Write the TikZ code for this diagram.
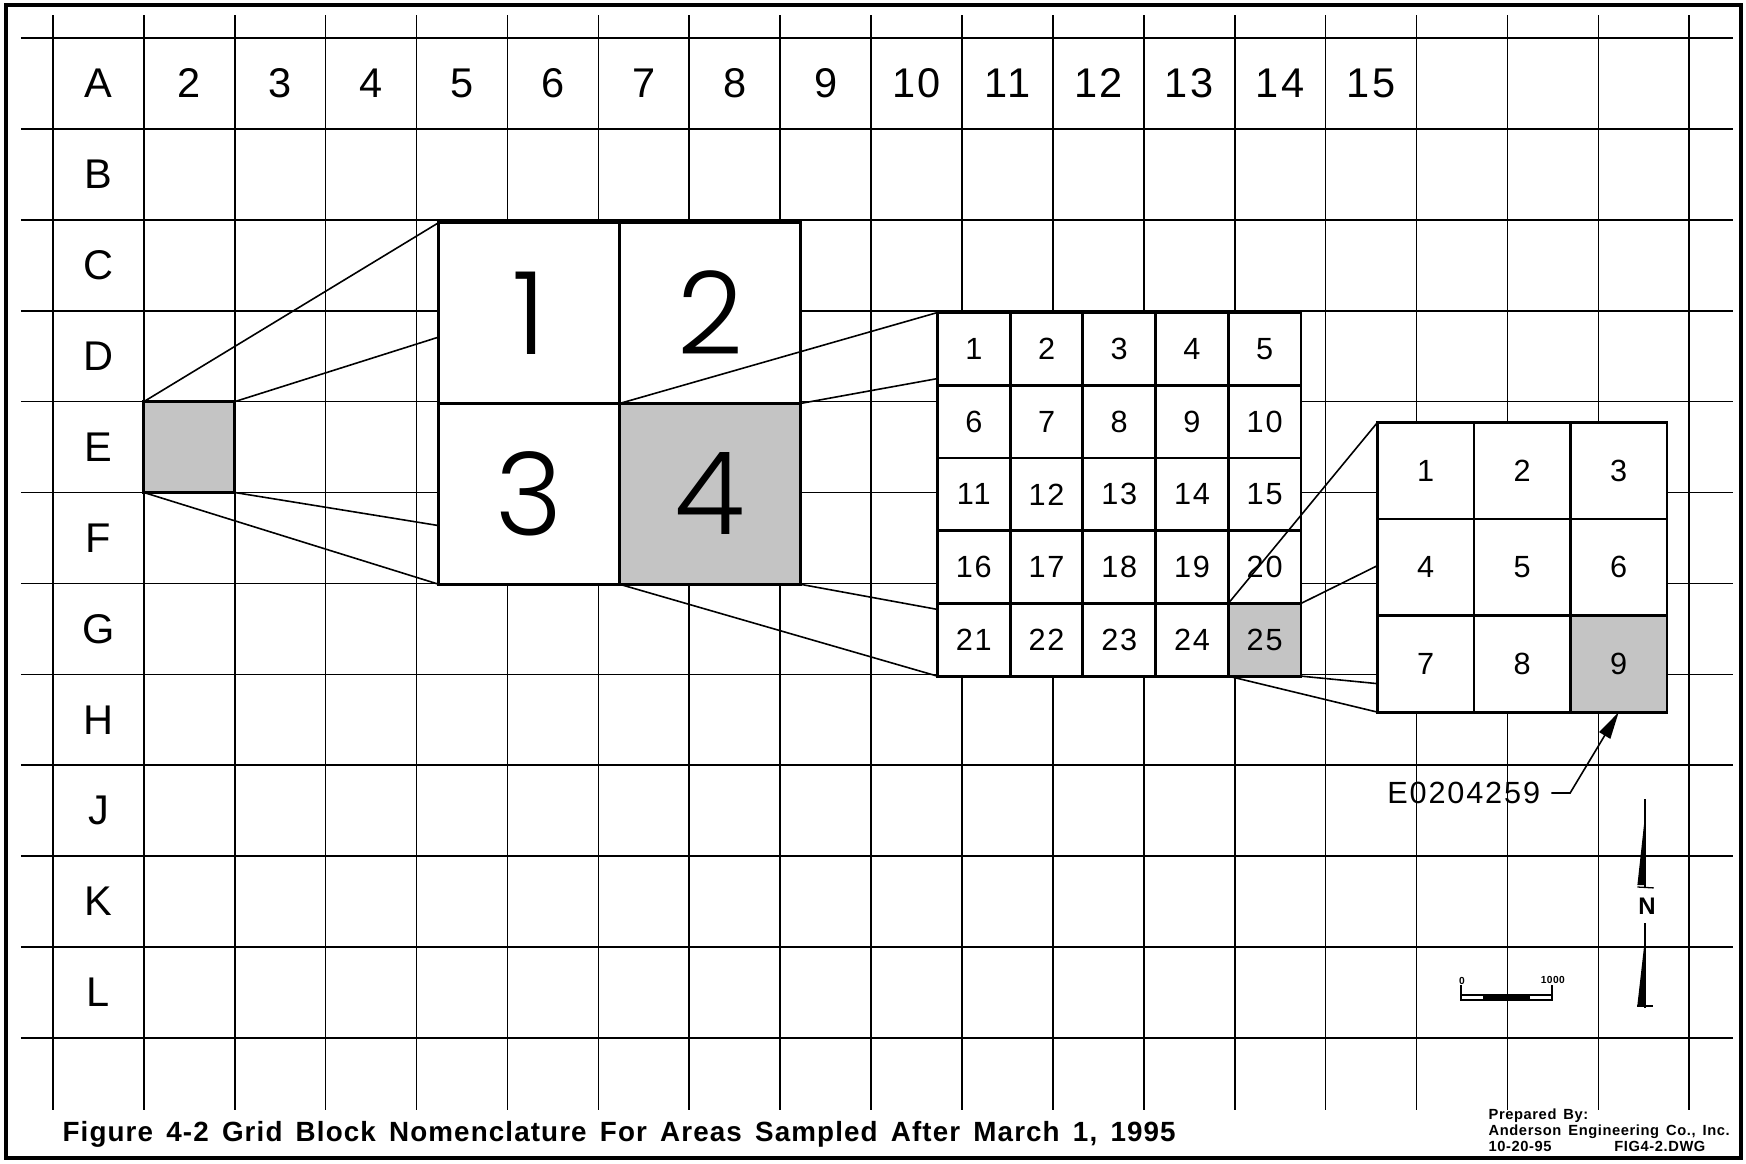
\documentclass[tikz,border=0pt]{standalone}
\usepackage{fontspec}
\setmainfont{Liberation Sans}
\newfontfamily\labfont{Liberation Sans}[LetterSpace=6]
\newfontfamily\capfont{Liberation Sans}[LetterSpace=4, WordSpace=1.5]
\newfontfamily\thinfont{Poppins Light}
\usetikzlibrary{arrows.meta}
\definecolor{cshade}{HTML}{C4C4C4}
\pgfdeclarelayer{grid}
\pgfdeclarelayer{zoomA}
\pgfdeclarelayer{boxA}
\pgfdeclarelayer{zoomB}
\pgfdeclarelayer{boxB}
\pgfdeclarelayer{zoomC}
\pgfdeclarelayer{boxC}
\pgfsetlayers{grid,zoomA,boxA,zoomB,boxB,zoomC,boxC,main}
\tikzset{
  every picture/.style={line width=0.5pt},
  cell/.style={draw, line width=0.9pt, fill=white, minimum size=#1, inner sep=0pt, outer sep=0pt},
  cell/.default=1cm,
  gridline/.style={line width=0.5pt},
  zoomline/.style={line width=0.5pt},
  lab/.style={font=\labfont\fontsize{13}{13}\selectfont},
  num/.style={font=\labfont\fontsize{9.6}{10}\selectfont},
  bignum/.style={font=\thinfont\fontsize{36}{36}\selectfont},
  tiny/.style={font=\capfont\bfseries\fontsize{4.6}{5}\selectfont, anchor=base west, inner sep=0pt},
}

\begin{document}
\begin{tikzpicture}[x=1cm, y=1cm,
                    tip/.style={-{Triangle[length=3mm, width=1.4mm]}, line width=0.5pt},
                    scalelab/.style={font=\capfont\bfseries\fontsize{3.2}{4}\selectfont, inner sep=0pt}]
  \useasboundingbox (-0.583,0.418) rectangle (18.625,-12.387);
  \draw[line width=1.2pt] (-0.517,0.363) rectangle (18.57,-12.32);
  \begin{pgfonlayer}{grid}
    \foreach \i in {0,...,18} \draw[gridline] (\i,0.253) -- (\i,-11.79);
    \foreach \j in {0,...,11} \draw[gridline] (-0.352,-\j) -- (18.48,-\j);
    \node[cell, fill=cshade] (e2) at (1.5,-4.5) {};
  \end{pgfonlayer}
  \node[lab] (rA) at (0.5,-0.5) {A};
  \foreach \c in {2,...,15} \node[lab] (c\c) at (\c-0.5,-0.5) {\c};
  \foreach \r/\l in {1/B,2/C,3/D,4/E,5/F,6/G,7/H,8/J,9/K,10/L}
    \node[lab] (r\l) at (0.5,-\r-0.5) {\l};
  \begin{pgfonlayer}{boxA}
    \foreach \n/\x/\y/\f in {1/0/0/white, 2/1/0/white, 3/0/1/white, 4/1/1/cshade}
      \node[cell=1.99cm, bignum, fill=\f] (q\n) at (5.24+1.99*\x, -3.025-1.99*\y) {\n};
  \end{pgfonlayer}
  \begin{pgfonlayer}{boxB}
    \foreach \r in {0,...,4} \foreach \c in {0,...,4} {
      \pgfmathtruncatemacro\n{5*\r+\c+1}
      \ifnum\n=25 \def\f{cshade}\else\def\f{white}\fi
      \node[cell=0.8cm, num, fill=\f] (s\n) at (10.13+0.8*\c, -3.42-0.8*\r) {\n};
    }
  \end{pgfonlayer}
  \begin{pgfonlayer}{boxC}
    \foreach \r in {0,...,2} \foreach \c in {0,...,2} {
      \pgfmathtruncatemacro\n{3*\r+\c+1}
      \ifnum\n=9 \def\f{cshade}\else\def\f{white}\fi
      \node[cell=1.062cm, num, fill=\f] (t\n) at (15.101+1.062*\c, -4.761-1.062*\r) {\n};
    }
  \end{pgfonlayer}
  \begin{pgfonlayer}{zoomA}
    \foreach \a/\b in {north west/q1, north east/q2, south east/q4, south west/q3}
      \draw[zoomline] (e2.\a) -- (\b.\a);
  \end{pgfonlayer}
  \begin{pgfonlayer}{zoomB}
    \foreach \a/\b in {north west/s1, north east/s5, south east/s25, south west/s21}
      \draw[zoomline] (q4.\a) -- (\b.\a);
  \end{pgfonlayer}
  \begin{pgfonlayer}{zoomC}
    \foreach \a/\b in {north west/t1, north east/t3, south east/t9, south west/t7}
      \draw[zoomline] (s25.\a) -- (\b.\a);
  \end{pgfonlayer}
  \node[num] (tag) at (15.52,-8.306) {E0204259};
  \coordinate (kink) at (16.69,-8.306);
  \draw[tip] (tag.east) -- (kink) -- (t9.south);
  \node[scalelab] (sb0) at (15.50,-10.374) {0};
  \node[scalelab] (sb1000) at (16.50,-10.363) {1000};
  \draw (15.49,-10.418) -- (15.49,-10.583) -- (16.49,-10.583) -- (16.49,-10.418);
  \draw[line width=0.4pt] (15.49,-10.528) -- (16.49,-10.528);
  \fill (15.73,-10.528) rectangle (16.25,-10.583);
  \draw (17.514,-8.372) -- (17.514,-9.34);
  \fill (17.514,-8.55) -- (17.52,-9.32) -- (17.43,-9.32) -- cycle;
  \draw (17.43,-9.34) -- (17.61,-9.35);
  \node[font=\bfseries\fontsize{7.5}{7.5}\selectfont, inner sep=0pt] (north) at (17.536,-9.549) {N};
  \draw (17.514,-9.736) -- (17.514,-10.671);
  \fill (17.514,-9.9) -- (17.52,-10.638) -- (17.43,-10.638) -- cycle;
  \draw (17.43,-10.649) -- (17.6,-10.649);
  \node[anchor=base west, inner sep=0pt, font=\capfont\bfseries\fontsize{8.7}{10}\selectfont] (title) at (0.099,-12.145)
    {Figure 4-2 Grid Block Nomenclature For Areas Sampled After March 1, 1995};
  \node[tiny] (prep) at (15.787,-11.903) {Prepared By:};
  \node[tiny] (firm) at (15.787,-12.079) {Anderson Engineering Co., Inc.};
  \node[tiny] (date) at (15.787,-12.255) {10-20-95};
  \node[tiny] (dwg) at (17.17,-12.255) {FIG4-2.DWG};
\end{tikzpicture}
\end{document}
